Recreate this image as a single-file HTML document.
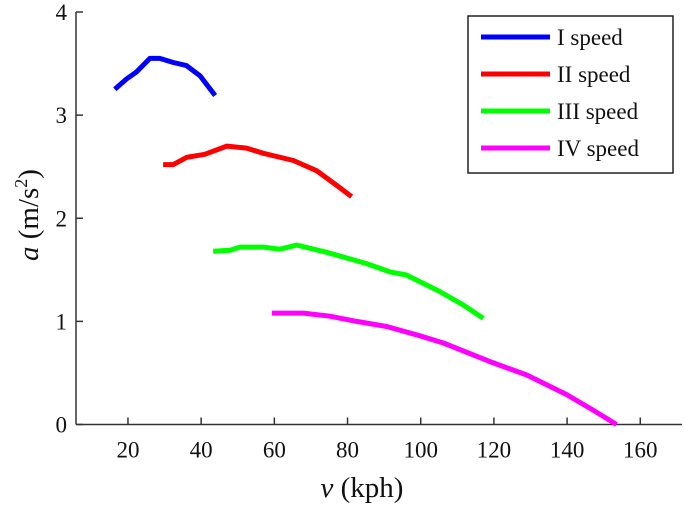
<!DOCTYPE html>
<html><head><meta charset="utf-8"><style>
body{margin:0;background:#fff}
svg{display:block}
svg text{font-family:"Liberation Serif","DejaVu Serif",serif}
</style></head><body>
<svg id="chart" width="685" height="507" font-family="Liberation Serif, serif"></svg>
<script>
const xTicks=[20,40,60,80,100,120,140,160];
const yTicks=[0,1,2,3,4];
const seriesNames=["I speed","II speed","III speed","IV speed"];
const seriesColors=["#0000ff","#ff0000","#00ff00","#ff00ff"];
const v1=[16.4,19.6,22.4,26,28.7,32.4,36,39.7,43.8];
const a1=[3.25,3.35,3.42,3.55,3.55,3.51,3.48,3.38,3.19];
const v2=[29.6,32.4,36,41,47,52.4,57,65.2,71.6,77,81.1];
const a2=[2.52,2.52,2.59,2.62,2.70,2.68,2.63,2.56,2.46,2.32,2.21];
const v3=[43.3,47.9,50.6,57,61.5,66.1,74.3,85.2,91.6,96.1,105.2,111.6,117.1];
const a3=[1.68,1.69,1.72,1.72,1.70,1.74,1.67,1.56,1.48,1.45,1.29,1.16,1.03];
const v4=[59.3,67.9,75.2,82.5,90.7,99.8,106.2,118.9,129,139.9,147.1,153.5];
const a4=[1.08,1.08,1.05,1.00,0.95,0.86,0.79,0.61,0.48,0.29,0.14,0.0];

const NS="http://www.w3.org/2000/svg";
const FONT="Liberation Serif, DejaVu Serif, serif";
const svg=document.getElementById('chart');
const L=76,R=682,T=12,B=424.5;
const xMin=5.8,xMax=171.4,yMin=0,yMax=4;
const sx=v=>L+(v-xMin)/(xMax-xMin)*(R-L);
const sy=a=>B-(a-yMin)/(yMax-yMin)*(B-T);
function mk(tag,attrs){const e=document.createElementNS(NS,tag);for(const k in attrs)e.setAttribute(k,attrs[k]);if(tag==='text')e.setAttribute('font-family',FONT);svg.appendChild(e);return e;}

let e=mk('line',{x1:L,y1:B,x2:R,y2:B,stroke:'#333','stroke-width':1.5});


e=mk('line',{x1:L,y1:T,x2:L,y2:B,stroke:'#333','stroke-width':1.5});



xTicks.forEach(t=>{
  let l=mk('line',{x1:sx(t),y1:B,x2:sx(t),y2:B-7,stroke:'#333','stroke-width':1.5});
  
  
  let tx=mk('text',{x:sx(t),y:B+33,'font-size':23,'text-anchor':'middle',fill:'#111'});
  tx.textContent=t;
  
  
});
yTicks.forEach(t=>{
  let l=mk('line',{x1:L,y1:sy(t),x2:L+7,y2:sy(t),stroke:'#333','stroke-width':1.5});
  
  
  let tx=mk('text',{x:L-9,y:sy(t)+8,'font-size':23,'text-anchor':'end',fill:'#111'});
  tx.textContent=t;
  
  
});

const vs=[v1,v2,v3,v4],as=[a1,a2,a3,a4];
vs.forEach((v,i)=>{
  const d=v.map((x,j)=>(j?'L':'M')+sx(x).toFixed(1)+','+sy(as[i][j]).toFixed(1)).join(' ');
  let p=mk('path',{d:d,fill:'none',stroke:seriesColors[i],'stroke-width':5,'stroke-linejoin':'round'});
  
  
});

let box=mk('rect',{x:468,y:16,width:205,height:157,fill:'#fff',stroke:'#222','stroke-width':1.5});


seriesNames.forEach((n,i)=>{
  const y=37+i*37;
  let l=mk('line',{x1:481,y1:y,x2:550,y2:y,stroke:seriesColors[i],'stroke-width':5});
  
  
  let tx=mk('text',{x:557,y:y+8,'font-size':23,fill:'#111'});
  tx.textContent=n;
  
  
});

let xl=mk('text',{x:362,y:497,'font-size':29,'text-anchor':'middle',fill:'#111'});
xl.innerHTML='<tspan font-style="italic">v</tspan> (kph)';


let yl=mk('text',{x:0,y:0,'font-size':29,'text-anchor':'middle',fill:'#111',transform:'translate(38,215) rotate(-90)'});
yl.innerHTML='<tspan font-style="italic">a</tspan> (m/s<tspan font-size="18" dy="-11">2</tspan><tspan dy="11">)</tspan>';


</script>
</body></html>
